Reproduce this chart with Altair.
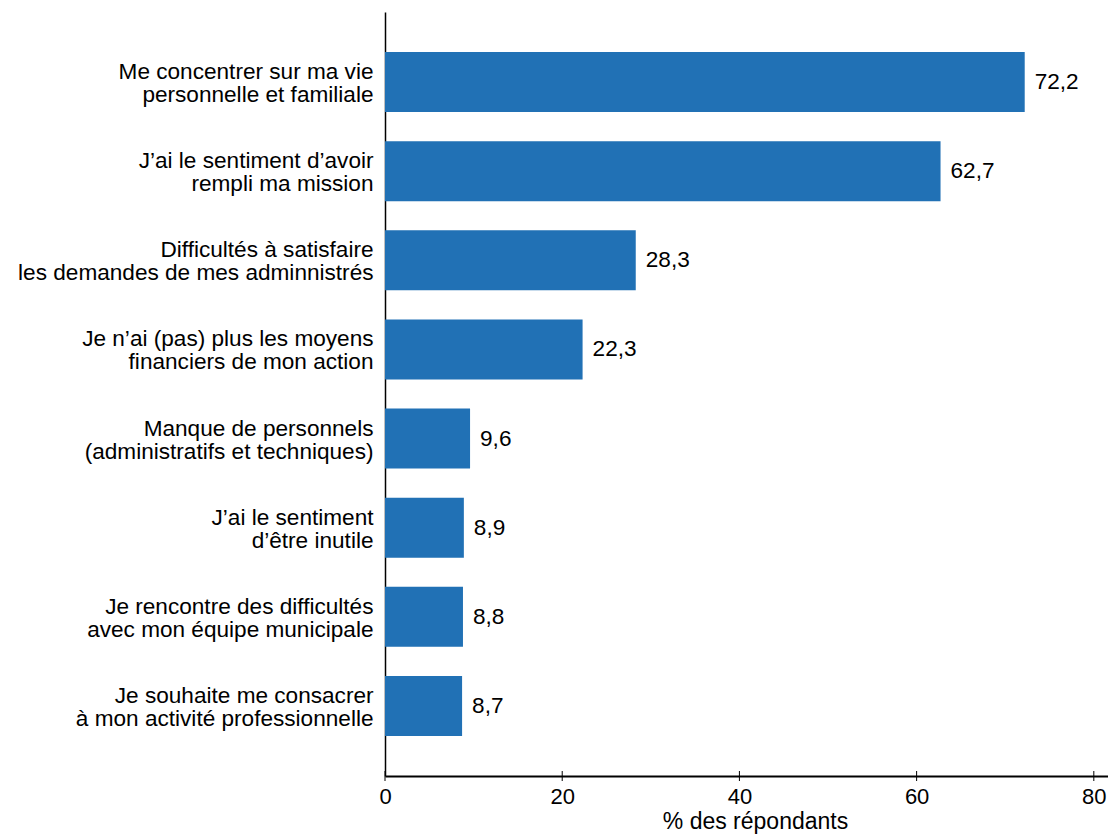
import altair as alt
import pandas as pd

categories = [
    "Me concentrer sur ma vie|personnelle et familiale",
    "J’ai le sentiment d’avoir|rempli ma mission",
    "Difficultés à satisfaire|les demandes de mes adminnistrés",
    "Je n’ai (pas) plus les moyens|financiers de mon action",
    "Manque de personnels|(administratifs et techniques)",
    "J’ai le sentiment|d’être inutile",
    "Je rencontre des difficultés|avec mon équipe municipale",
    "Je souhaite me consacrer|à mon activité professionnelle",
]
values = [72.2, 62.7, 28.3, 22.3, 9.6, 8.9, 8.8, 8.7]
x_ticks = [0, 20, 40, 60, 80]

df = pd.DataFrame({"cat": categories, "val": values})
df["lbl"] = [f"{v:.1f}".replace(".", ",") for v in values]
ticks_df = pd.DataFrame({"t": x_ticks})

FONT = "Liberation Sans, Arial, sans-serif"
W, H = 723, 764

xscale = alt.Scale(domain=[0, 81.6], nice=False, zero=True)
yscale = alt.Scale(domain=categories, paddingInner=0.327, paddingOuter=0.45)

base = alt.Chart(df)

bars = base.mark_bar(color="#2171b5").encode(
    x=alt.X("val:Q", scale=xscale,
            axis=alt.Axis(values=x_ticks, title="% des répondants", ticks=False, tickSize=0,
                          grid=False, domainColor="black", domainWidth=2,
                          labelFontSize=22, labelPadding=10, labelColor="black",
                          labelFlush=False,
                          titleFontSize=23, titleFontWeight="normal", titleColor="black",
                          titlePadding=3, labelFont=FONT, titleFont=FONT,
                          titleX=370)),
    y=alt.Y("cat:N", scale=yscale, sort=categories,
            axis=alt.Axis(title=None, ticks=False, tickSize=0, grid=False,
                          domainColor="black", domainWidth=1.5,
                          labelExpr="split(datum.label, '|')",
                          labelFontSize=22.6, labelLineHeight=23, labelColor="black",
                          labelOffset=-10,
                          labelPadding=12, labelLimit=400, labelFont=FONT)),
)

texts = base.mark_text(align="left", baseline="middle", dx=10, fontSize=22.6,
                       font=FONT, color="black").encode(
    x=alt.X("val:Q", scale=xscale),
    y=alt.Y("cat:N", scale=yscale, sort=categories),
    text="lbl:N",
)

tick_rules = alt.Chart(ticks_df).mark_rule(color="black", strokeWidth=1).encode(
    x=alt.X("t:Q", scale=xscale),
    y=alt.value(H - 5),
    y2=alt.value(H + 5),
)

chart = alt.layer(bars, texts, tick_rules).properties(
    width=W, height=H,
    autosize=alt.AutoSizeParams(type="none"),
    padding={"left": 377, "top": 4, "right": 0, "bottom": 62},
).configure(font=FONT, view=alt.ViewConfig(stroke=None))

chart.save("out.html", embed_options={"renderer": "svg", "actions": False})
